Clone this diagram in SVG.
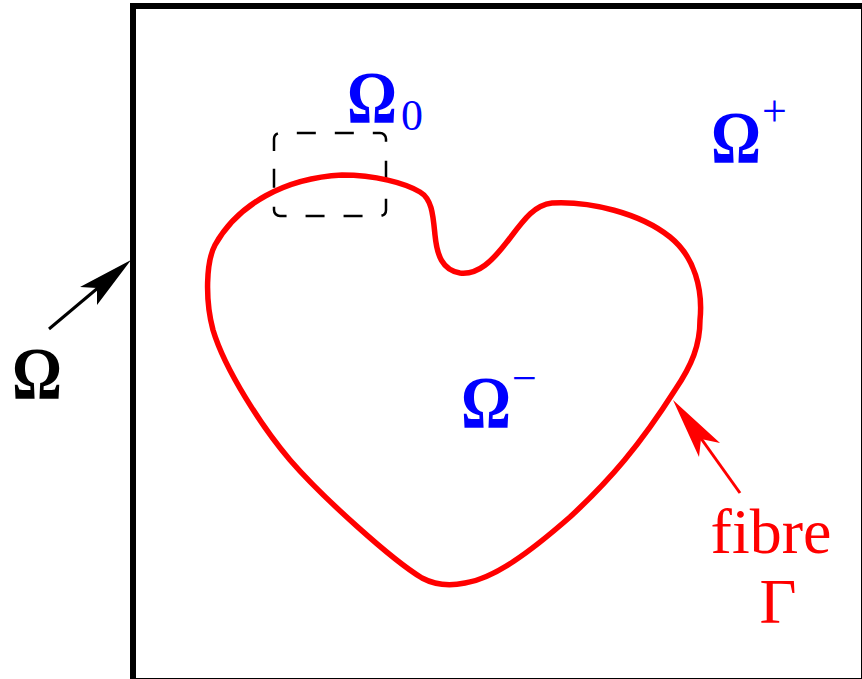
<svg xmlns="http://www.w3.org/2000/svg" width="862" height="679" viewBox="0 0 862 679">
<style>
.lbl{font-family:"Liberation Serif","Times New Roman",serif;font-weight:bold;font-size:74px;fill:#0000ff}
.sub{font-family:"Liberation Serif","Times New Roman",serif;font-weight:normal;font-size:44px;fill:#0000ff}
.red{font-family:"Liberation Serif","Times New Roman",serif;font-size:64px;fill:#ff0000}
</style>
<rect width="862" height="679" fill="#ffffff"/>
<g id="domain">
<rect x="133" y="6" width="731" height="675" fill="none" stroke="#000" stroke-width="6"/>
</g>
<g id="window">
<path d="M274,151 L274,139 A6,6 0 0 1 280,133 L380,133 A6,6 0 0 1 386,139 L386,210 A6,6 0 0 1 380,216 L280,216 A6,6 0 0 1 274,210 Z" fill="none" stroke="#000" stroke-width="2.5" stroke-dasharray="19 19"/>
</g>
<g id="fibre">
<path d="M342,175 C375,175 405,183 420,192 C432,199 433,215 435,235 C437,255 442,270 460,273 C478,275 492,262 510,238 C525,218 535,205 552,203 C590,201 640,213 670,237 C695,257 703,290 700,320 C700,345 692,365 675,390 C640,445 610,480 570,517 C530,552 495,578 465,583 C450,586 435,585 422,578 C392,560 322,497 290,460 C262,427 225,370 213,330 C205,300 206,262 215,245 C238,204 285,178 342,175 Z" fill="none" stroke="#ff0000" stroke-width="5.5"/>
</g>
<g id="labels">
<text class="lbl"><tspan x="347" y="123" textLength="50" lengthAdjust="spacingAndGlyphs">Ω</tspan><tspan class="sub" x="401" y="130">0</tspan></text>
<text class="lbl"><tspan x="711" y="163" textLength="50" lengthAdjust="spacingAndGlyphs">Ω</tspan><tspan class="sub" x="762" y="126">+</tspan></text>
<text class="lbl"><tspan x="461" y="428" textLength="50" lengthAdjust="spacingAndGlyphs">Ω</tspan><tspan class="sub" x="512" y="393">−</tspan></text>
<text class="lbl" x="12" y="399" textLength="50" lengthAdjust="spacingAndGlyphs" style="fill:#000">Ω</text>
<text class="red" x="771" y="553" text-anchor="middle">fibre</text>
<text class="red" x="778" y="623" text-anchor="middle">Γ</text>
</g>
<g id="connectors">
<line x1="49" y1="329" x2="99" y2="287" stroke="#000" stroke-width="3"/>
<polygon points="131,260 97,305 97,288 80,287" fill="#000"/>
<line x1="740" y1="493" x2="700" y2="437" stroke="#ff0000" stroke-width="3"/>
<polygon points="673,400 720,443 701,439 699,457" fill="#ff0000"/>
</g>
</svg>
